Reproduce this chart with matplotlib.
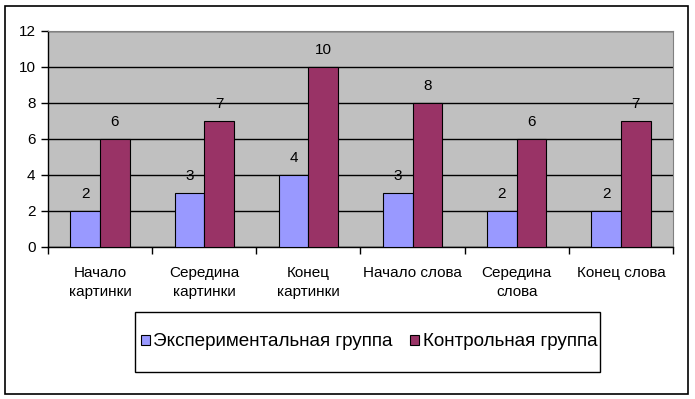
import numpy as np
import matplotlib.pyplot as plt
from matplotlib.patches import Rectangle

# данные
categories = ['Начало\nкартинки', 'Середина\nкартинки', 'Конец\nкартинки',
              'Начало слова', 'Середина\nслова', 'Конец слова']
exp_group = [2, 3, 4, 3, 2, 2]
ctrl_group = [6, 7, 10, 8, 6, 7]
series_names = ['Экспериментальная группа', 'Контрольная группа']
y_ticks = [0, 2, 4, 6, 8, 10, 12]

plt.rcParams['font.family'] = ['Liberation Sans', 'DejaVu Sans']

W, H = 695, 399
fig = plt.figure(figsize=(W / 100, H / 100), dpi=100)

# рамка вокруг всей диаграммы
fig.patches.append(Rectangle((5 / W, 1 - 394 / H), 683 / W, 388 / H,
                             transform=fig.transFigure, fill=False,
                             edgecolor='black', linewidth=1.2))
# рамка легенды
fig.patches.append(Rectangle((135 / W, 1 - 372 / H), 465 / W, 60 / H,
                             transform=fig.transFigure, fill=False,
                             edgecolor='black', linewidth=1.0))

ax = fig.add_axes([48 / W, 1 - 247 / H, 625 / W, 216 / H])
ax.set_facecolor('#C0C0C0')

x = np.arange(len(categories))
w = 0.285
b1 = ax.bar(x - w / 2, exp_group, w, color='#9999FF', edgecolor='black', linewidth=0.8,
            label=series_names[0], zorder=3)
b2 = ax.bar(x + w / 2, ctrl_group, w, color='#993366', edgecolor='black', linewidth=0.8,
            label=series_names[1], zorder=3)

for bars in (b1, b2):
    ax.bar_label(bars, padding=7, fontsize=11, color='black')

ax.set_xlim(-0.5, len(categories) - 0.5)
ax.set_ylim(0, 12)
ax.set_yticks(y_ticks)
ax.yaxis.grid(True, color='black', linewidth=1.0, zorder=1)
ax.set_axisbelow(True)

ax.set_xticks(x)
ax.set_xticklabels(categories, fontsize=11, linespacing=1.45)
ax.set_xticks(np.arange(len(categories) + 1) - 0.5, minor=True)
ax.tick_params(axis='x', which='major', length=0, pad=14)
ax.tick_params(axis='x', which='minor', length=5, width=1, direction='out')
ax.tick_params(axis='y', length=5, width=1, direction='out', labelsize=11, pad=4)

for side in ('top', 'right'):
    ax.spines[side].set_color('#808080')
    ax.spines[side].set_linewidth(0.8)
ax.spines['left'].set_linewidth(1.0)
ax.spines['bottom'].set_linewidth(1.0)

fig.legend(loc='center', bbox_to_anchor=(369 / W, 1 - 342 / H),
           ncol=2, fontsize=13.6, frameon=False,
           handlelength=0.48, handleheight=0.48,
           handletextpad=0.2, columnspacing=0.9, borderpad=0,
           borderaxespad=0)

fig.savefig('out.png', dpi=100)
